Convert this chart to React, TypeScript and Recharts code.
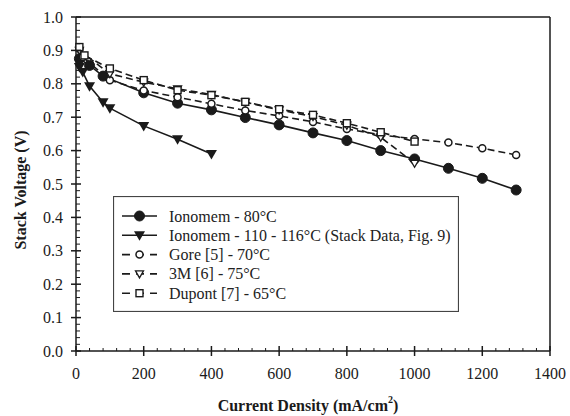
import React from "react";
import { LineChart, Line, XAxis, YAxis, ReferenceLine } from "recharts";

const FONT = "'Liberation Serif', 'Times New Roman', serif";
const INK = "#1a1a1a";

// current density (mA/cm2) and stack voltage (V) per series
const ionomem80Current = [10, 40, 80, 200, 300, 400, 500, 600, 700, 800, 900, 1000, 1100, 1200, 1300];
const ionomem80Voltage = [0.875, 0.855, 0.823, 0.773, 0.742, 0.722, 0.699, 0.677, 0.653, 0.63, 0.6, 0.575, 0.547, 0.517, 0.482];

const ionomem110Current = [10, 20, 40, 80, 100, 200, 300, 400];
const ionomem110Voltage = [0.85, 0.835, 0.793, 0.745, 0.727, 0.674, 0.634, 0.59];

const goreCurrent = [10, 20, 100, 200, 300, 400, 500, 600, 700, 800, 900, 1000, 1100, 1200, 1300];
const goreVoltage = [0.905, 0.88, 0.811, 0.78, 0.76, 0.74, 0.72, 0.704, 0.686, 0.665, 0.647, 0.635, 0.624, 0.607, 0.587];

const threeMCurrent = [10, 100, 200, 300, 400, 500, 600, 700, 800, 900, 1000];
const threeMVoltage = [0.9, 0.83, 0.805, 0.785, 0.768, 0.745, 0.722, 0.702, 0.676, 0.64, 0.562];

const dupontCurrent = [10, 25, 100, 200, 300, 400, 500, 600, 700, 800, 900, 1000];
const dupontVoltage = [0.91, 0.885, 0.846, 0.811, 0.781, 0.766, 0.746, 0.724, 0.707, 0.682, 0.655, 0.627];

const legendLabels = [
  "Ionomem - 80\u00B0C",
  "Ionomem - 110 - 116\u00B0C (Stack Data, Fig. 9)",
  "Gore [5] - 70\u00B0C",
  "3M [6] - 75\u00B0C",
  "Dupont [7] - 65\u00B0C",
];

const toPoints = (current: number[], voltage: number[]) =>
  current.map((i, k) => ({ i, v: voltage[k] }));

// major every 200 / 0.1, with 4 minor ticks between
const xTicks: number[] = [];
for (let k = 0; k <= 35; k++) xTicks.push(k * 40);
const yTicks: number[] = [];
for (let k = 0; k <= 50; k++) yTicks.push(Math.round(k * 2) / 100);

type MarkerKind = "filledCircle" | "filledTri" | "openCircle" | "openTri" | "openSquare";

const Marker = ({ kind, cx, cy }: { kind: MarkerKind; cx: number; cy: number }) => {
  switch (kind) {
    case "filledCircle":
      return <circle cx={cx} cy={cy} r={5} fill={INK} stroke={INK} />;
    case "filledTri":
      return <polygon points={`${cx - 5.5},${cy - 4} ${cx + 5.5},${cy - 4} ${cx},${cy + 5.5}`} fill={INK} />;
    case "openCircle":
      return <circle cx={cx} cy={cy} r={3.5} fill="#fff" stroke={INK} strokeWidth={1.5} />;
    case "openTri":
      return (
        <polygon
          points={`${cx - 4},${cy - 3} ${cx + 4},${cy - 3} ${cx},${cy + 4}`}
          fill="#fff"
          stroke={INK}
          strokeWidth={1.3}
        />
      );
    default:
      return <rect x={cx - 3.5} y={cy - 3.5} width={7} height={7} fill="#fff" stroke={INK} strokeWidth={1.4} />;
  }
};

const series = [
  { name: "ionomem80", data: toPoints(ionomem80Current, ionomem80Voltage), kind: "filledCircle" as MarkerKind, dash: undefined },
  { name: "ionomem110", data: toPoints(ionomem110Current, ionomem110Voltage), kind: "filledTri" as MarkerKind, dash: undefined },
  { name: "gore", data: toPoints(goreCurrent, goreVoltage), kind: "openCircle" as MarkerKind, dash: "7 4" },
  { name: "3m", data: toPoints(threeMCurrent, threeMVoltage), kind: "openTri" as MarkerKind, dash: "7 4" },
  { name: "dupont", data: toPoints(dupontCurrent, dupontVoltage), kind: "openSquare" as MarkerKind, dash: "7 4" },
];

// eslint-disable-next-line @typescript-eslint/no-explicit-any
const XTick = ({ x, y, payload }: any) => {
  const v = payload.value;
  const major = v % 200 === 0;
  return (
    <g>
      {major ? (
        <line x1={x} x2={x} y1={y - 5} y2={y + 5} stroke={INK} strokeWidth={1.5} />
      ) : (
        <line x1={x} x2={x} y1={y} y2={y - 3} stroke={INK} strokeWidth={1} />
      )}
      {major && (
        <text x={x} y={y + 22} textAnchor="middle" dominantBaseline="central" fontFamily={FONT} fontSize={16} fill={INK}>
          {v}
        </text>
      )}
    </g>
  );
};

// eslint-disable-next-line @typescript-eslint/no-explicit-any
const YTick = ({ x, y, payload }: any) => {
  const v = payload.value;
  const major = Math.round(v * 100) % 10 === 0;
  return (
    <g>
      {major ? (
        <line x1={x - 5} x2={x + 5} y1={y} y2={y} stroke={INK} strokeWidth={1.5} />
      ) : (
        <line x1={x} x2={x + 4} y1={y} y2={y} stroke={INK} strokeWidth={1} />
      )}
      {major && (
        <text x={x - 13} y={y} textAnchor="end" dominantBaseline="central" fontFamily={FONT} fontSize={16} fill={INK}>
          {v.toFixed(1)}
        </text>
      )}
    </g>
  );
};

const LegendBox = () => (
  <svg width={346} height={116} style={{ position: "absolute", left: 113, top: 196 }}>
    <rect x={0.5} y={0.5} width={345} height={115} fill="#fff" stroke="#444" strokeWidth={1.2} />
    {series.map((s, k) => {
      const cy = 20 + k * 19.3;
      return (
        <g key={s.name}>
          <line x1={9} x2={44} y1={cy} y2={cy} stroke={INK} strokeWidth={1.6} strokeDasharray={s.dash ? "8 6" : undefined} />
          <Marker kind={s.kind} cx={26.5} cy={cy} />
          <text x={56} y={cy} dominantBaseline="central" fontFamily={FONT} fontSize={16} fill="#222">
            {legendLabels[k]}
          </text>
        </g>
      );
    })}
  </svg>
);

export default function App() {
  return (
    <div style={{ position: "absolute", left: 0, top: 0, width: 570, height: 416, background: "#fff" }}>
      <LineChart width={570} height={416} margin={{ top: 17, right: 20, left: 0, bottom: 0 }}>
        <XAxis
          dataKey="i"
          type="number"
          domain={[0, 1400]}
          ticks={xTicks}
          interval={0}
          tickSize={0}
          tickMargin={0}
          tick={<XTick />}
          height={65}
          axisLine={{ stroke: INK, strokeWidth: 1.5 }}
          allowDuplicatedCategory={false}
        />
        <YAxis
          type="number"
          domain={[0, 1]}
          ticks={yTicks}
          interval={0}
          tickSize={0}
          tickMargin={0}
          tick={<YTick />}
          width={76}
          axisLine={{ stroke: INK, strokeWidth: 1.5 }}
        />
        <ReferenceLine y={1} stroke={INK} strokeWidth={1.5} />
        <ReferenceLine x={1400} stroke={INK} strokeWidth={1.5} />
        {series.map((s) => (
          <Line
            key={s.name}
            data={s.data}
            dataKey="v"
            type="linear"
            stroke={INK}
            strokeWidth={1.6}
            strokeDasharray={s.dash}
            isAnimationActive={false}
            // eslint-disable-next-line @typescript-eslint/no-explicit-any
            dot={(p: any) => <Marker key={`${s.name}-${p.index}`} kind={s.kind} cx={p.cx} cy={p.cy} />}
            activeDot={false}
          />
        ))}
        <text x={20} y={190} transform="rotate(-90 20 190)" textAnchor="middle" dominantBaseline="central" fontFamily={FONT} fontSize={16} fontWeight="bold" fill={INK}>
          Stack Voltage (V)
        </text>
        <text x={308} y={405} textAnchor="middle" dominantBaseline="central" fontFamily={FONT} fontSize={16} fontWeight="bold" fill={INK}>
          Current Density (mA/cm
          <tspan fontSize={10} dy={-6}>2</tspan>
          <tspan dy={6}>)</tspan>
        </text>
      </LineChart>
      <LegendBox />
    </div>
  );
}
